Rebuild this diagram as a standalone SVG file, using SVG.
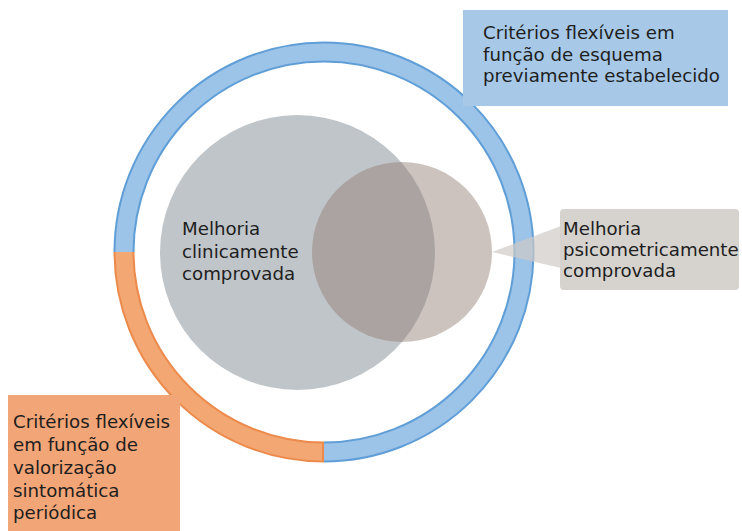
<svg xmlns="http://www.w3.org/2000/svg" width="742" height="531" viewBox="0 0 742 531">
<style>
.t{font-family:"DejaVu Sans","Verdana",sans-serif;font-size:18.2px;fill:#1e1e1e}
</style>
<rect width="742" height="531" fill="#ffffff"/>
<g id="ring">
<path d="M324,452 A200,200 0 1 0 124,252" fill="none" stroke="#5f9ed6" stroke-width="21"/>
<path d="M324,452 A200,200 0 1 0 124,252" fill="none" stroke="#9cc3e8" stroke-width="17"/>
<path d="M124,252 A200,200 0 0 0 324,452" fill="none" stroke="#ec8a4c" stroke-width="21"/>
<path d="M124,252 A200,200 0 0 0 322,452" fill="none" stroke="#f3a772" stroke-width="17"/>
</g>
<g id="clinical">
<circle cx="297.5" cy="252.5" r="137.5" fill="#c0c5c9"/>
<text class="t" x="182" y="235">Melhoria</text>
<text class="t" x="182" y="257.5">clinicamente</text>
<text class="t" x="182" y="280">comprovada</text>
</g>
<g id="psychometric-circle">
<circle cx="402" cy="252" r="90" fill="#907d72" fill-opacity="0.46"/>
</g>
<g id="connectors">
<path d="M492,252 L561,226 L561,268 Z" fill="#cfcbc6" fill-opacity="0.7"/>
</g>
<g id="psychometric">
<rect x="560" y="209" width="179" height="81" rx="4" fill="#d6d3cf"/>
<text class="t" x="563" y="235">Melhoria</text>
<text class="t" x="563" y="256">psicometricamente</text>
<text class="t" x="563" y="277">comprovada</text>
</g>
<g id="scheme">
<rect x="463" y="10" width="265" height="96" fill="#a7c9e7"/>
<text class="t" x="483" y="39">Critérios flexíveis em</text>
<text class="t" x="483" y="61">função de esquema</text>
<text class="t" x="483" y="82">previamente estabelecido</text>
</g>
<g id="symptomatic">
<rect x="8" y="395" width="172" height="136" fill="#f2a576"/>
<text class="t" x="13" y="428">Critérios flexíveis</text>
<text class="t" x="13" y="451">em função de</text>
<text class="t" x="13" y="474">valorização</text>
<text class="t" x="13" y="497">sintomática</text>
<text class="t" x="13" y="519">periódica</text>
</g>
</svg>
